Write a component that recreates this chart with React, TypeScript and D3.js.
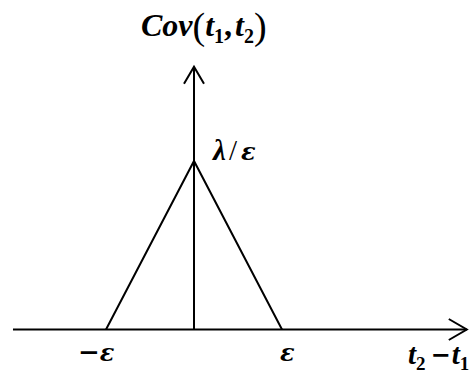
import React from "react";
import * as d3 from "d3";

// Triangular covariance of a shot-noise style process: Cov(t1,t2) as function of lag t2 - t1
const lagPoints = [-1, 0, 1]; // in units of ε
const covValues = [0, 1, 0]; // in units of λ/ε
const xTickLabels = ["ε", "ε"];
const xTickSigns = ["−", ""];
const xTickValues = [-1, 1];

const W = 469;
const H = 373;

export default function App() {
  const x = d3.scaleLinear().domain([-1, 1]).range([106, 282]);
  const y = d3.scaleLinear().domain([0, 1]).range([329.5, 161]);

  const xMin = -2.057;
  const xMax = 3.1;
  const yMax = 1.56;

  const tri = d3
    .line<number>()
    .x((_, i) => x(lagPoints[i]))
    .y((d) => y(d))(covValues) as string;

  const x0 = x(0);
  const y0 = y(0);
  const xr = x(xMax);
  const yt = y(yMax);

  const font = "'Liberation Serif', 'Times New Roman', serif";
  const greek = "'DejaVu Serif', 'Liberation Serif', serif";

  return (
    <svg
      width={W}
      height={H}
      style={{ position: "absolute", left: 0, top: 0, background: "#fff" }}
    >
      <g stroke="#000" strokeWidth={2} fill="none">
        {/* horizontal axis with open arrowhead */}
        <line x1={x(xMin)} y1={y0} x2={xr} y2={y0} />
        <polyline points={`${xr - 18},${y0 - 10.5} ${xr},${y0} ${xr - 18},${y0 + 10.5}`} />
        {/* vertical axis with open arrowhead */}
        <line x1={x0} y1={y0} x2={x0} y2={yt} />
        <polyline points={`${x0 - 10},${yt + 17} ${x0},${yt} ${x0 + 10},${yt + 17}`} />
        {/* triangle */}
        <path d={tri} strokeLinejoin="miter" />
      </g>

      <g fontFamily={font} fontWeight="bold" fontStyle="italic" fill="#000">
        <text x={141} y={36} fontSize={32}>
          Cov
          <tspan fontStyle="normal" fontWeight="normal" fontSize={38} dy={3}>(</tspan>
          <tspan dy={-3}>t</tspan>
          <tspan fontStyle="normal" fontSize={20} dy={7}>1</tspan>
          <tspan fontStyle="normal" dy={-7}>,</tspan>
          <tspan dx={3}>t</tspan>
          <tspan fontStyle="normal" fontSize={20} dy={7}>2</tspan>
          <tspan fontStyle="normal" fontWeight="normal" fontSize={38} dy={-4}>)</tspan>
        </text>

        {/* peak value label */}
        <text x={x0 + 19} y={y(1) - 1} fontSize={29}>
          <tspan>λ</tspan>
          <tspan fontStyle="normal" fontWeight="normal" dx={3}>/</tspan>
          <tspan fontFamily={greek} fontSize={24} dx={4}>ε</tspan>
        </text>

        {xTickValues.map((v, i) => (
          <text
            key={i}
            x={x(v) + (v < 0 ? -28 : -2)}
            y={361}
            fontSize={27}
          >
            {xTickSigns[i] && (
              <tspan fontStyle="normal" fontWeight="bold" fontFamily={greek} fontSize={26}>
                {xTickSigns[i]}
              </tspan>
            )}
            <tspan fontFamily={greek} fontSize={24}>{xTickLabels[i]}</tspan>
          </text>
        ))}

        <text x={408} y={364} fontSize={29}>
          t
          <tspan fontStyle="normal" fontSize={19} dy={6}>2</tspan>
          <tspan fontStyle="normal" fontFamily={greek} fontSize={24} dx={5} dy={-7}>−</tspan>
          <tspan dx={1} dy={1}>t</tspan>
          <tspan fontStyle="normal" fontSize={19} dy={6}>1</tspan>
        </text>
      </g>
    </svg>
  );
}
